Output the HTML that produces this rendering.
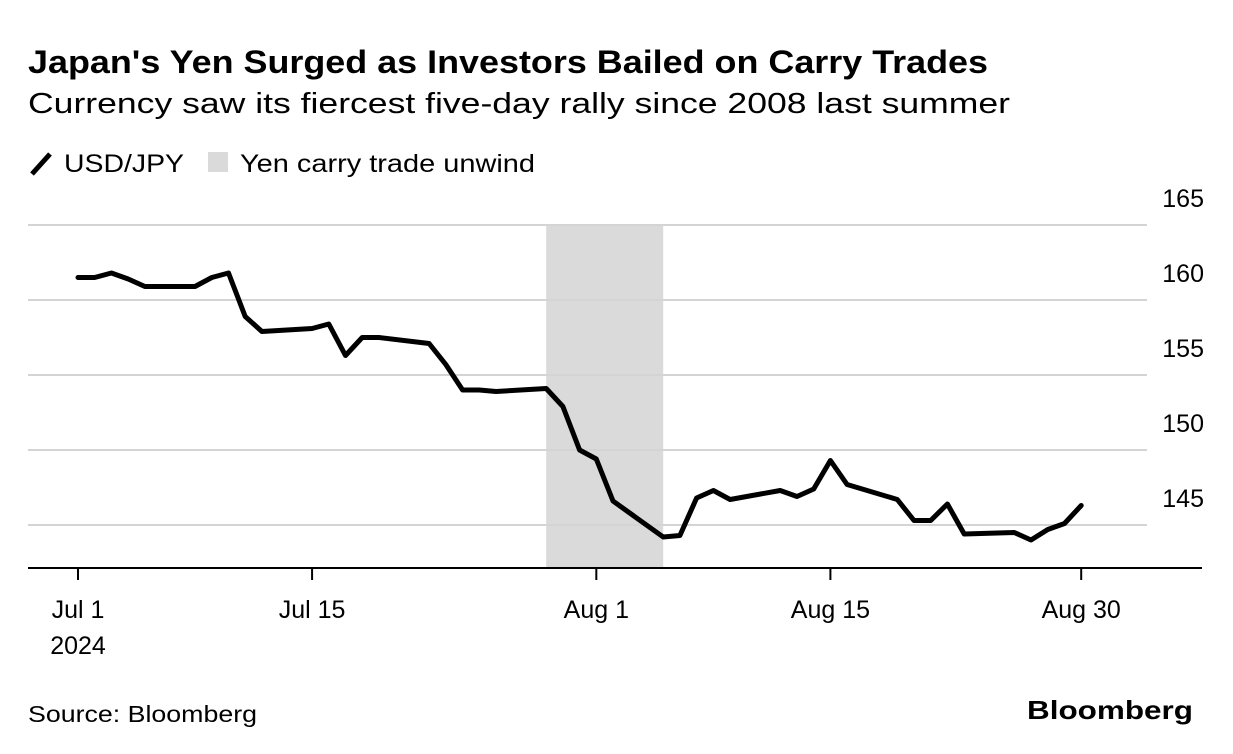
<!DOCTYPE html>
<html><head><meta charset="utf-8"><style>
body{margin:0;background:#fff;width:1233px;height:754px;overflow:hidden;font-family:"Liberation Sans",sans-serif;color:#000}
</style></head><body>
<svg width="1233" height="754" style="position:absolute;left:0;top:0">
<text x="28" y="73" font-size="32" font-weight="bold" textLength="960" lengthAdjust="spacingAndGlyphs">Japan's Yen Surged as Investors Bailed on Carry Trades</text>
<text x="28" y="113" font-size="29" textLength="982" lengthAdjust="spacingAndGlyphs">Currency saw its fiercest five-day rally since 2008 last summer</text>
<g>
<line x1="32" y1="174" x2="50" y2="154" stroke="#000" stroke-width="5"/>
<text x="64" y="172" font-size="25" textLength="120" lengthAdjust="spacingAndGlyphs">USD/JPY</text>
<rect x="208" y="152" width="20" height="20" fill="#dadada"/>
<text x="240" y="172" font-size="25" textLength="295" lengthAdjust="spacingAndGlyphs">Yen carry trade unwind</text>
</g>
<g id="plot"></g>
<text x="28" y="722" font-size="23" textLength="229" lengthAdjust="spacingAndGlyphs">Source: Bloomberg</text>
<text x="1027" y="719" font-size="26" font-weight="bold" textLength="166" lengthAdjust="spacingAndGlyphs">Bloomberg</text>
</svg>
<script>
const days=[0,1,2,3,4,7,8,9,10,11,14,15,16,17,18,21,22,23,24,25,28,29,30,31,32,35,36,37,38,39,42,43,44,45,46,49,50,51,52,53,56,57,58,59,60];
const values=[161.5,161.5,161.8,161.4,160.9,160.9,161.5,161.8,158.9,157.9,158.1,158.4,156.3,157.5,157.5,157.1,155.7,154.0,154.0,153.9,154.1,152.9,150.0,149.4,146.6,144.2,144.3,146.8,147.3,146.7,147.3,146.9,147.4,149.3,147.7,146.7,145.3,145.3,146.4,144.4,144.5,144.0,144.7,145.1,146.3];
const yTicks=[145,150,155,160,165];
const xTickDays=[0,14,31,45,60];
const xTickLabels=["Jul 1","Jul 15","Aug 1","Aug 15","Aug 30"];
const shadeStart=28, shadeEnd=35;
const NS="http://www.w3.org/2000/svg";
const X=d=>78+d*16.72;
const Y=v=>525-(v-145)*15;
const g=document.getElementById('plot');
function mk(t,a){const e=document.createElementNS(NS,t);for(const k in a)e.setAttribute(k,a[k]);g.appendChild(e);return e;}
const sh=mk('rect',{x:X(shadeStart),y:Y(165),width:X(shadeEnd)-X(shadeStart),height:568-Y(165),fill:'#dadada'});


yTicks.forEach(t=>{
 const l=mk('line',{x1:28,x2:1147,y1:Y(t),y2:Y(t),stroke:'#d4d4d4','stroke-width':2});
 
 
 const tx=mk('text',{x:1204,y:Y(t)-18,'font-size':25,'text-anchor':'end'});tx.textContent=t;
 
 
});
const base=mk('line',{x1:28,x2:1202,y1:568,y2:568,stroke:'#000','stroke-width':2});


xTickDays.forEach((d,i)=>{
 const l=mk('line',{x1:X(d),x2:X(d),y1:568,y2:580,stroke:'#000','stroke-width':2});
 
 
 const tx=mk('text',{x:X(d),y:618,'font-size':25,'text-anchor':'middle'});tx.textContent=xTickLabels[i];
 
 
});
const yr=mk('text',{x:X(0),y:654,'font-size':25,'text-anchor':'middle'});yr.textContent="2024";


const p=mk('path',{d:days.map((d,i)=>(i?'L':'M')+X(d).toFixed(1)+','+Y(values[i]).toFixed(1)).join(''),fill:'none',stroke:'#000','stroke-width':5,'stroke-linejoin':'round','stroke-linecap':'round'});


</script>
</body></html>
